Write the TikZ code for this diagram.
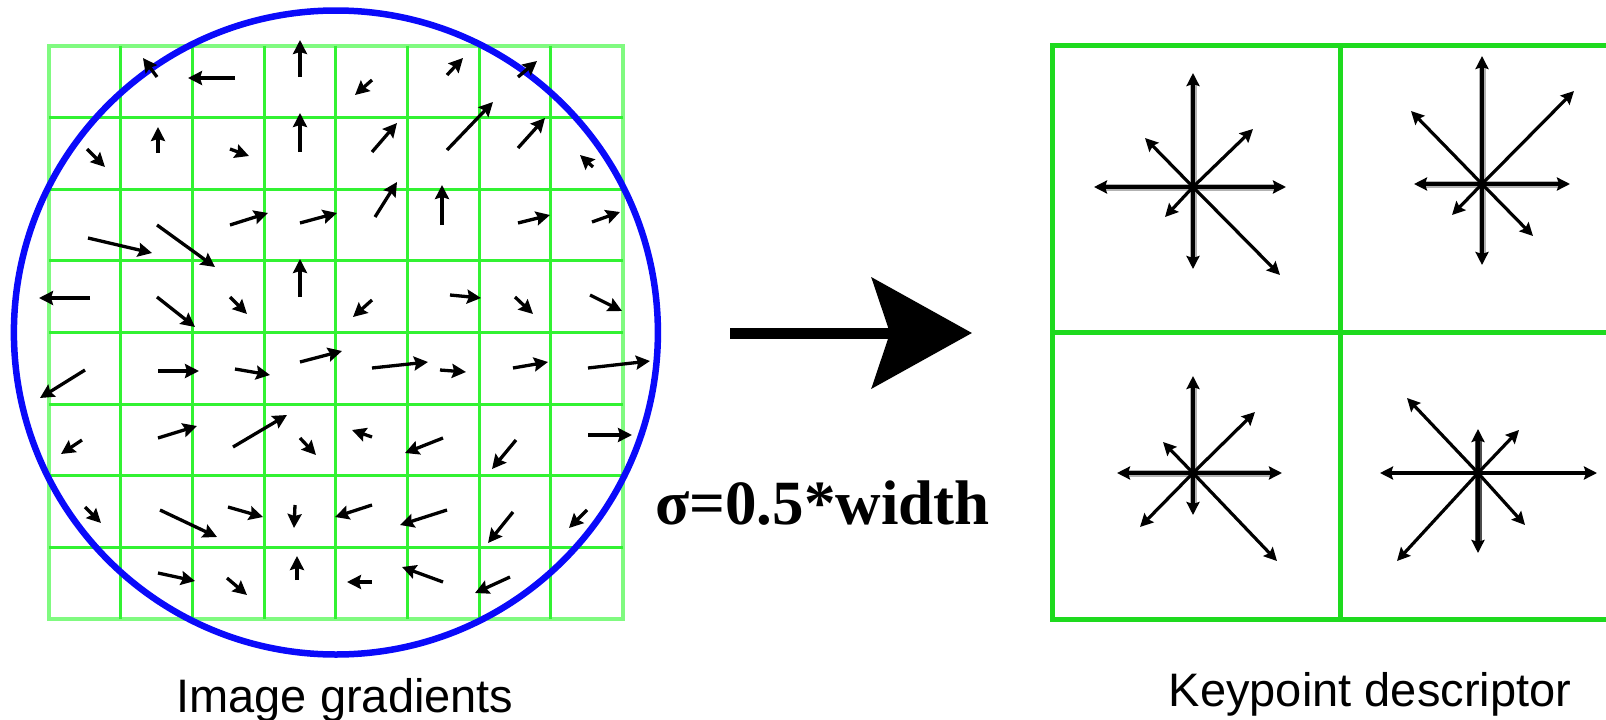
\documentclass[tikz,border=0pt]{standalone}
\usepackage{fontspec}
\setmainfont{Liberation Serif}
\newfontfamily\arialf{Liberation Sans}
\usetikzlibrary{arrows.meta}
\definecolor{gridlite}{RGB}{128,250,128}
\definecolor{gridgreen}{RGB}{50,242,50}
\definecolor{circblue}{RGB}{10,10,250}
\definecolor{boxgreen}{RGB}{30,218,30}
\tikzset{
  grad/.style={line width=3.3pt, -{Stealth[length=14pt,width=14pt,inset=2pt]}},
  hist/.style={line width=3.2pt, -{Stealth[length=13pt,width=13pt,inset=2pt]}},
  histax/.style={line width=7pt, color=black!30},
  lbl/.style={font=\arialf\fontsize{47}{52}\selectfont, anchor=base, inner sep=0pt},
}
\begin{document}
\begin{tikzpicture}[x=1pt,y=-1pt]
\useasboundingbox (0,0) rectangle (1606,720);
\clip (0,0) rectangle (1606,720);

% ---------- left: gradient grid ----------
\node[draw=gridlite, line width=4pt, minimum width=573.6pt, minimum height=573.6pt, inner sep=0pt] (grid) at (335.9,332.5) {};
\foreach \i in {1,...,7} {
  \draw[gridgreen, line width=3pt] (49+\i*71.7,45.7) -- (49+\i*71.7,619.3);
  \draw[gridgreen, line width=3pt] (49,45.7+\i*71.7) -- (622.7,45.7+\i*71.7);
}
\node[draw=circblue, line width=6.5pt, circle, minimum size=644pt, inner sep=0pt] (circ) at (335.9,332.5) {};

% gradient arrows: tail x / tail y / head x / head y
\foreach \a/\b/\c/\d in {
  157/77/143/58, 235/78/188/78, 300/77/300/40, 372/80/355/95, 447/75/463/58, 518/77/537/61,
  87/149/105/167, 158/153/158/127, 230/149/249/156, 300/152/300/113, 372/152/397/123, 447/150/493/102, 518/148/545/118, 593/167/580/155,
  88/238/152/253, 157/225/215/267, 230/225/268/213, 300/223/337/213, 375/217/397/182, 442/225/442/185, 518/223/550/215, 592/222/620/212,
  90/298/39/298, 157/297/195/327, 230/297/247/314, 300/297/300/259, 372/300/353/317, 450/295/481/298, 515/297/533/314, 590/295/622/311,
  85/370/40/398, 158/371/199/371, 235/369/270/375, 300/362/342/351, 372/368/428/362, 440/370/466/372, 513/368/548/362, 588/368/650/361,
  82/440/61/454, 158/438/197/426, 233/447/287/415, 300/438/316/455, 372/437/352/430, 443/438/405/453, 516/440/492/469, 588/435/632/435,
  85/507/101/523, 160/510/217/537, 228/507/263/517, 295/505/294/528, 372/505/335/517, 447/510/400/525, 513/512/488/543, 587/510/569/528,
  158/573/195/581, 227/578/247/595, 297/580/297/556, 372/582/347/582, 443/582/402/567, 510/577/475/593}
  \draw[grad] (\a,\b) -- (\c,\d);

% ---------- middle: big arrow and sigma ----------
\coordinate (arrS) at (730,333);
\coordinate (arrE) at (972,333);
\draw[line width=11pt, -{Stealth[length=100pt,width=110pt,inset=18pt]}] (arrS) -- (arrE);
\node[font=\bfseries\fontsize{63}{68}\selectfont, anchor=base, inner sep=0pt] (sig) at (822.5,524) {σ=0.5*width};

% ---------- right: keypoint descriptor ----------
\draw[boxgreen, line width=5pt] (1052.5,45.7) rectangle (1627.5,619);
\draw[boxgreen, line width=5pt] (1340,45.7) -- (1340,619);
\draw[boxgreen, line width=5pt] (1052.5,332) -- (1627.5,332);
\node[inner sep=0pt, minimum size=287pt] (cTL) at (1196,188.8) {};
\node[inner sep=0pt, minimum size=287pt] (cTR) at (1483.7,188.8) {};
\node[inner sep=0pt, minimum size=287pt] (cBL) at (1196,475.5) {};
\node[inner sep=0pt, minimum size=287pt] (cBR) at (1483.7,475.5) {};
\coordinate (sTL) at (1193,187);
\coordinate (sTR) at (1482,184);
\coordinate (sBL) at (1193,473);
\coordinate (sBR) at (1478,473);

% star TL
\draw[histax] ([xshift=-88pt]sTL) -- ([xshift=82pt]sTL);
\draw[histax] ([yshift=102pt]sTL) -- ([yshift=-70pt]sTL);
\foreach \dx/\dy in {0/-114, 0/82, -99/0, 93/0, 60/-58, -48/-49, -28/30, 87/88}
  \draw[hist] (sTL) -- ++(\dx,\dy);
% star TR
\draw[histax] ([xshift=-58pt]sTR) -- ([xshift=77pt]sTR);
\draw[histax] ([yshift=117pt]sTR) -- ([yshift=-69pt]sTR);
\foreach \dx/\dy in {0/-128, 0/81, -68/0, 88/0, 92/-93, -71/-73, -30/31, 51/52}
  \draw[hist] (sTR) -- ++(\dx,\dy);
% star BL
\draw[histax] ([xshift=-66pt]sBL) -- ([xshift=78pt]sBL);
\draw[histax] ([yshift=85pt]sBL) -- ([yshift=-30pt]sBL);
\foreach \dx/\dy in {0/-97, 0/42, -76/0, 89/0, 62/-61, -30/-31, -53/54, 84/88}
  \draw[hist] (sBL) -- ++(\dx,\dy);
% star BR
\draw[histax, color=black!70] ([yshift=32pt]sBR) -- ([yshift=-69pt]sBR);
\draw[histax, color=black!55, line width=4.5pt] ([xshift=-88pt]sBR) -- ([xshift=108pt]sBR);
\foreach \dx/\dy in {0/-44, 0/80, -98/0, 119/0, 41/-43, -71/-75, -81/88, 47/52}
  \draw[hist] (sBR) -- ++(\dx,\dy);

% ---------- labels ----------
\node[lbl] (labL) at (345,712.7) {Image gradients};
\node[lbl] (labR) at (1370,706) {Keypoint descriptor};
\end{tikzpicture}
\end{document}
